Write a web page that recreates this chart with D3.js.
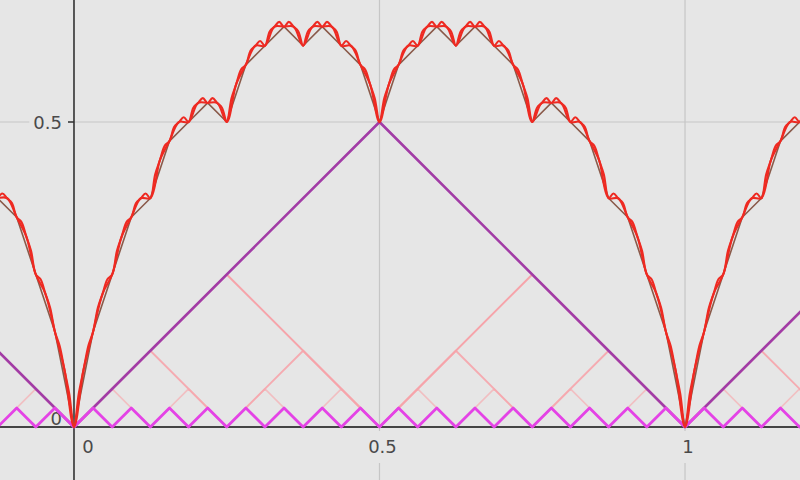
<!DOCTYPE html>
<html><head><meta charset="utf-8">
<script src="https://cdn.jsdelivr.net/npm/d3@7"></script>
<style>html,body{margin:0;padding:0;background:#e6e6e6;overflow:hidden}svg{display:block}</style>
</head><body><svg id="c" width="800" height="480"></svg>
<script>
// ---- tick data ----
const xTicks = [0, 0.5, 1];
const xTickLabels = ["0", "0.5", "1"];
const yTicks = [0, 0.5];
const yTickLabels = ["0", "0.5"];
const xGrid = [0.5, 1];
const yGrid = [0.5];

// ---- component triangle waves: s(2^n x)/2^n, vertex values ----
const wave0Start = -0.5,   wave0Step = 0.5;
const wave0 = [0.5, 0, 0.5, 0, 0.5];
const wave1Start = -0.25,  wave1Step = 0.25;
const wave1 = [0.25, 0, 0.25, 0, 0.25, 0, 0.25];
const wave2Start = -0.125, wave2Step = 0.125;
const wave2 = [0.125, 0, 0.125, 0, 0.125, 0, 0.125, 0, 0.125, 0, 0.125, 0];
const wave3Start = -0.125, wave3Step = 0.0625;
const wave3 = [0, 0.0625, 0, 0.0625, 0, 0.0625, 0, 0.0625, 0, 0.0625, 0, 0.0625,
               0, 0.0625, 0, 0.0625, 0, 0.0625, 0, 0.0625, 0, 0.0625, 0];
const wave4Start = -0.125, wave4Step = 0.03125;
const wave4 = [0, 0.03125, 0, 0.03125, 0, 0.03125, 0, 0.03125, 0, 0.03125, 0, 0.03125,
               0, 0.03125, 0, 0.03125, 0, 0.03125, 0, 0.03125, 0, 0.03125, 0, 0.03125,
               0, 0.03125, 0, 0.03125, 0, 0.03125, 0, 0.03125, 0, 0.03125, 0, 0.03125,
               0, 0.03125, 0, 0.03125, 0, 0.03125, 0, 0.03125];

// ---- partial sum of 5 waves (brown), values in 1/32 units ----
const sum5Start = -0.125, sum5Step = 1 / 32, sum5Unit = 32;
const sum5 = [12, 11, 8, 5,
  0, 5, 8, 11, 12, 15, 16, 17, 16, 19, 20, 21, 20, 21, 20, 19, 16,
  19, 20, 21, 20, 21, 20, 19, 16, 17, 16, 15, 12, 11, 8, 5,
  0, 5, 8, 11, 12, 15, 16, 17];

// ---- red curves, values in 1/64 and 1/128 units ----
const red1Start = -0.125, red1Step = 1 / 64, red1Unit = 64;
const red1 = [24, 24, 22, 20, 16, 14, 10, 6,
  0, 6, 10, 14, 16, 20, 22, 24, 24, 28, 30, 32, 32, 34, 34, 34, 32, 36, 38, 40, 40, 42, 42, 42, 40, 42, 42, 42, 40, 40, 38, 36, 32,
  36, 38, 40, 40, 42, 42, 42, 40, 42, 42, 42, 40, 40, 38, 36, 32, 34, 34, 34, 32, 32, 30, 28, 24, 24, 22, 20, 16, 14, 10, 6,
  0, 6, 10, 14, 16, 20, 22, 24, 24, 28, 30, 32, 32, 34];

const red2Start = -0.125, red2Step = 1 / 128, red2Unit = 128;
const red2 = [48, 49, 48, 47, 44, 43, 40, 37, 32, 31, 28, 25, 20, 17, 12, 7,
  0, 7, 12, 17, 20, 25, 28, 31, 32, 37, 40, 43, 44, 47, 48, 49, 48, 53, 56, 59, 60, 63, 64, 65,
  64, 67, 68, 69, 68, 69, 68, 67, 64, 69, 72, 75, 76, 79, 80, 81, 80, 83, 84, 85, 84, 85, 84, 83,
  80, 83, 84, 85, 84, 85, 84, 83, 80, 81, 80, 79, 76, 75, 72, 69, 64,
  69, 72, 75, 76, 79, 80, 81, 80, 83, 84, 85, 84, 85, 84, 83, 80, 83, 84, 85, 84, 85, 84, 83, 80,
  81, 80, 79, 76, 75, 72, 69, 64, 67, 68, 69, 68, 69, 68, 67, 64, 65, 64, 63, 60, 59, 56, 53, 48,
  49, 48, 47, 44, 43, 40, 37, 32, 31, 28, 25, 20, 17, 12, 7,
  0, 7, 12, 17, 20, 25, 28, 31, 32, 37, 40, 43, 44, 47, 48, 49, 48, 53, 56, 59, 60, 63, 64, 65, 64, 67, 68];

// ---- drawing ----
const W = 800, H = 480, BG = "#e6e6e6";
const svg = d3.select("#c");
const x = d3.scaleLinear().domain([-0.1211, 1.1882]).range([0, W]);
const y = d3.scaleLinear().domain([-0.0869, 0.7]).range([H, 0]);

svg.append("rect").attr("width", W).attr("height", H).attr("fill", BG);

const g = svg.append("g");
g.selectAll(".gx").data(xGrid).join("line")
  .attr("x1", d => x(d)).attr("x2", d => x(d)).attr("y1", 0).attr("y2", H)
  .attr("stroke", "#c6c6c6").attr("stroke-width", 1.2);
g.selectAll(".gy").data(yGrid).join("line")
  .attr("y1", d => y(d)).attr("y2", d => y(d)).attr("x1", 0).attr("x2", W)
  .attr("stroke", "#c6c6c6").attr("stroke-width", 1.2);

const font = "DejaVu Sans, sans-serif";
// x labels with background boxes
xTicks.forEach((t, i) => {
  const cx = x(t) + (t === 0 ? 14 : 3);
  const txt = svg.append("text").attr("x", cx).attr("y", y(0) + 26)
    .attr("text-anchor", "middle").attr("font-family", font).attr("font-size", 18)
    .attr("fill", "#4a4a4a").text(xTickLabels[i]);
  const bb = txt.node().getBBox();
  svg.insert("rect", "text").attr("x", bb.x - 3).attr("y", y(0) + 4).attr("width", bb.width + 6)
    .attr("height", 32).attr("fill", BG);
});
yTicks.forEach((t, i) => {
  const txt = svg.append("text").attr("x", x(0) - 12).attr("y", t === 0 ? y(t) - 2 : y(t) + 7)
    .attr("text-anchor", "end").attr("font-family", font).attr("font-size", 18)
    .attr("fill", "#4a4a4a").text(yTickLabels[i]);
  const bb = txt.node().getBBox();
  if (t !== 0) svg.insert("rect", "text").attr("x", bb.x - 4).attr("y", bb.y - 2).attr("width", bb.width + 10)
    .attr("height", bb.height + 4).attr("fill", BG);
});

// axes
svg.append("line").attr("x1", 0).attr("x2", W).attr("y1", y(0)).attr("y2", y(0))
  .attr("stroke", "#444").attr("stroke-width", 2);
svg.append("line").attr("x1", x(0)).attr("x2", x(0)).attr("y1", 0).attr("y2", H)
  .attr("stroke", "#333").attr("stroke-width", 1.6);
yTicks.filter(t => t !== 0).forEach(t => {
  svg.append("line").attr("x1", x(0) - 6).attr("x2", x(0)).attr("y1", y(t)).attr("y2", y(t))
    .attr("stroke", "#333").attr("stroke-width", 1.5);
});

function series(vals, start, step, unit) {
  return vals.map((v, i) => [start + i * step, v / unit]);
}
const lin = d3.line().x(d => x(d[0])).y(d => y(d[1]));
const smooth = d3.line().x(d => x(d[0])).y(d => y(d[1])).curve(d3.curveCatmullRom.alpha(0.5));

function draw(data, gen, color, width, opacity) {
  svg.append("path").attr("d", gen(data)).attr("fill", "none").attr("stroke", color)
    .attr("stroke-width", width).attr("stroke-opacity", opacity)
    .attr("stroke-linejoin", "round").attr("stroke-linecap", "round");
}

draw(series(wave3, wave3Start, wave3Step, 1), lin, "#f4b4b8", 1.6, 0.8);
draw(series(wave2, wave2Start, wave2Step, 1), lin, "#f6a8ae", 1.8, 0.95);
draw(series(wave1, wave1Start, wave1Step, 1), lin, "#f6a4aa", 2, 1);
draw(series(wave0, wave0Start, wave0Step, 1), lin, "#a23ca6", 2.6, 1);
draw(series(wave4, wave4Start, wave4Step, 1), lin, "#e443e6", 2.8, 1);
draw(series(sum5, sum5Start, sum5Step, sum5Unit), lin, "#8a5a4a", 1.6, 1);
draw(series(red1, red1Start, red1Step, red1Unit), smooth, "#ee2a22", 2.1, 1);
draw(series(red2, red2Start, red2Step, red2Unit), smooth, "#ee2a22", 2.1, 1);
</script></body></html>
